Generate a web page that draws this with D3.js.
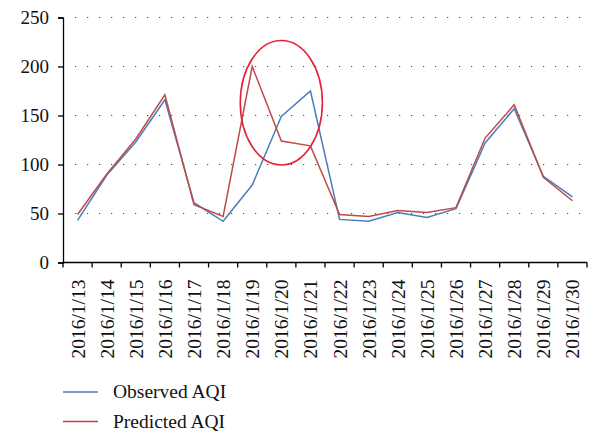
<!DOCTYPE html>
<html>
<head>
<meta charset="utf-8">
<script src="https://cdn.jsdelivr.net/npm/d3@7"></script>
<style>
  body { margin: 0; background: #fff; }
</style>
</head>
<body>
<div id="chart"></div>
<script>
// data
var dates = ["2016/1/13", "2016/1/14", "2016/1/15", "2016/1/16", "2016/1/17", "2016/1/18",
             "2016/1/19", "2016/1/20", "2016/1/21", "2016/1/22", "2016/1/23", "2016/1/24",
             "2016/1/25", "2016/1/26", "2016/1/27", "2016/1/28", "2016/1/29", "2016/1/30"];
var observed  = [43, 89, 123, 166, 61, 42, 79, 149, 175, 44, 42, 51, 46, 55, 122, 157, 88, 67];
var predicted = [49, 90, 126, 171, 59, 47, 200, 124, 119, 49, 47, 53, 51, 56, 127, 161, 87, 63];
var yTicks = [0, 50, 100, 150, 200, 250];
var seriesNames = ["Observed AQI", "Predicted AQI"];

var FONT = "'Liberation Serif'";

var width = 591, height = 432;
var margin = {top: 17.5, right: 4, bottom: 169.5, left: 63};

var svg = d3.select("#chart").append("svg")
    .attr("width", width)
    .attr("height", height);

var x = d3.scaleBand()
    .domain(dates)
    .range([margin.left, width - margin.right]);

var y = d3.scaleLinear()
    .domain([0, 250])
    .range([height - margin.bottom, margin.top]);

var color = d3.scaleOrdinal()
    .domain(seriesNames)
    .range(["#4a7ebb", "#be4b48"]);

// dotted gridlines
svg.append("g")
    .selectAll("line")
    .data(yTicks.slice(1))
    .enter().append("line")
    .attr("x1", margin.left + 12)
    .attr("x2", width - margin.right)
    .attr("y1", d => y(d))
    .attr("y2", d => y(d))
    .attr("stroke", "#444")
    .attr("stroke-width", 1.2)
    .attr("stroke-dasharray", "1.2,10.8");

// y axis
var yAxis = svg.append("g")
    .attr("transform", "translate(" + margin.left + ",0)")
    .call(d3.axisLeft(y).tickValues(yTicks).tickSize(5).tickPadding(9));
yAxis.selectAll("text")
    .style("font-family", FONT)
    .style("font-size", "19px")
    .attr("fill", "#111");
yAxis.select(".domain").attr("stroke-width", 1.3);
yAxis.selectAll(".tick line").attr("stroke-width", 1.3);

// x axis: ticks on band boundaries
var bounds = dates.map(d => x(d)).concat([x.range()[1]]);
var xAxisG = svg.append("g")
    .attr("transform", "translate(0," + y(0) + ")");
xAxisG.append("line")
    .attr("x1", margin.left).attr("x2", x.range()[1])
    .attr("stroke", "#000").attr("stroke-width", 1.3);
xAxisG.selectAll(".tk")
    .data(bounds)
    .enter().append("line")
    .attr("x1", d => d).attr("x2", d => d)
    .attr("y1", 0).attr("y2", 5)
    .attr("stroke", "#000").attr("stroke-width", 1.3);
xAxisG.selectAll(".lbl")
    .data(dates)
    .enter().append("text")
    .attr("transform", d => "translate(" + (x(d) + x.bandwidth() / 2 + 7) + ",17) rotate(-90)")
    .attr("text-anchor", "end")
    .style("font-family", FONT)
    .style("font-size", "19.5px")
    .attr("fill", "#111")
    .text(d => d);

// lines
var line = d3.line()
    .x((d, i) => x(dates[i]) + x.bandwidth() / 2)
    .y(d => y(d));

svg.append("path")
    .datum(observed)
    .attr("d", line)
    .attr("fill", "none")
    .attr("stroke", color("Observed AQI"))
    .attr("stroke-width", 1.5);

svg.append("path")
    .datum(predicted)
    .attr("d", line)
    .attr("fill", "none")
    .attr("stroke", color("Predicted AQI"))
    .attr("stroke-width", 1.5);

// the red ellipse around 2016/1/20
svg.append("ellipse")
    .attr("cx", x("2016/1/20") + x.bandwidth() / 2)
    .attr("cy", y(163))
    .attr("rx", x.bandwidth() * 1.41)
    .attr("ry", y(100) - y(163.5))
    .attr("fill", "none")
    .attr("stroke", "#e8203a")
    .attr("stroke-width", 1.6);

// legend
var legend = svg.selectAll(".legend")
    .data(seriesNames)
    .enter().append("g")
    .attr("class", "legend")
    .attr("transform", (d, i) => "translate(63," + (392 + i * 29.5) + ")");

legend.append("line")
    .attr("x1", 0).attr("x2", 35)
    .attr("stroke", d => d == "Observed AQI" ? "#4a7ebb" : "#d9373f")
    .attr("stroke-width", 1.5);

legend.append("text")
    .attr("x", 50)
    .attr("y", 6)
    .style("font-family", FONT)
    .style("font-size", "19.5px")
    .attr("fill", "#111")
    .text(d => d);
</script>
</body>
</html>
